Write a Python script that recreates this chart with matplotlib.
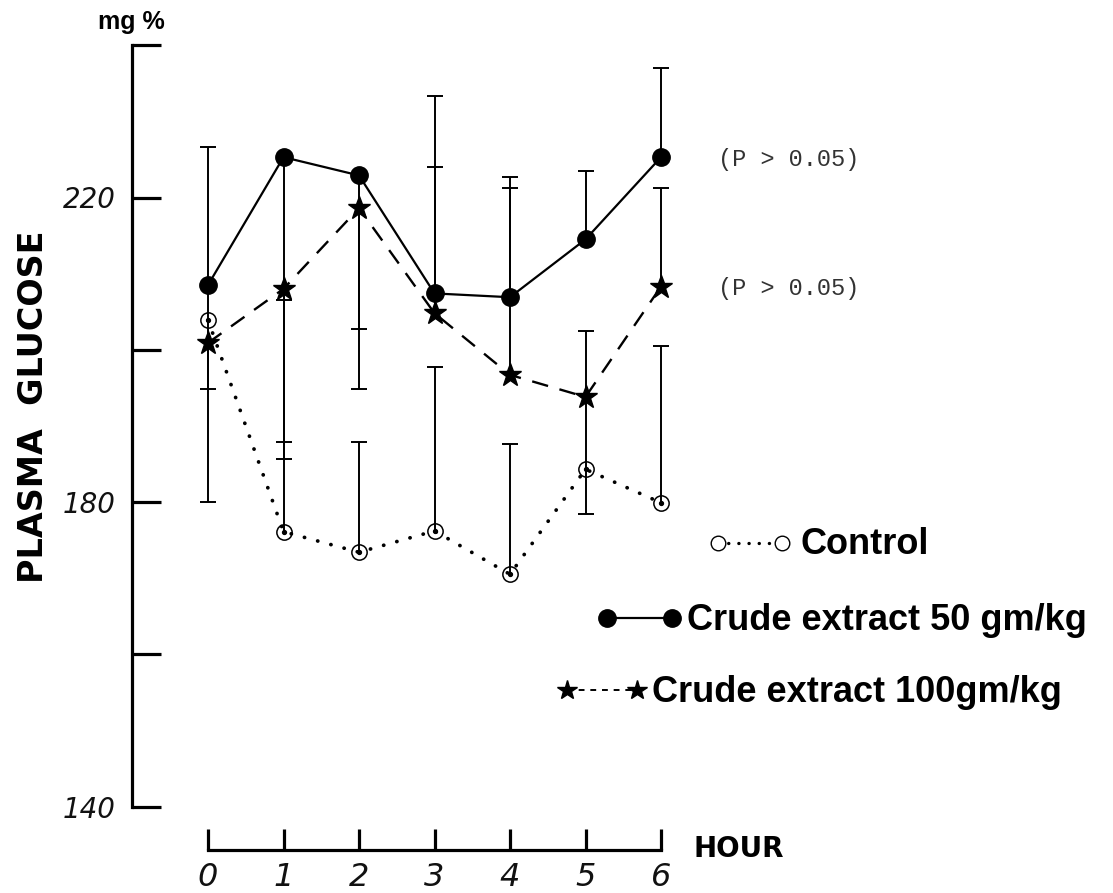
import numpy as np
import matplotlib
matplotlib.use("Agg")
import matplotlib.pyplot as plt
from matplotlib.lines import Line2D

# ---------------- data ----------------
hours = [0, 1, 2, 3, 4, 5, 6]
hour_labels = ["0", "1", "2", "3", "4", "5", "6"]
control = [203.9, 176.1, 173.4, 176.2, 170.5, 184.3, 179.9]
crude50 = [208.5, 225.3, 222.9, 207.4, 206.9, 214.5, 225.3]
crude100 = [200.9, 208.0, 218.6, 204.8, 196.7, 193.8, 208.3]
# one-sided error bars (0 = not drawn)
control_err_hi = [0, 30.5, 14.5, 21.5, 17.1, 0, 20.6]
control_err_lo = [0, 0, 0, 0, 0, 0, 0]
crude50_err_hi = [18.1, 0, 0, 25.9, 15.8, 9.0, 11.7]
crude50_err_lo = [13.7, 37.4, 20.2, 0, 0, 0, 0]
crude100_err_hi = [0, 0, 0, 19.2, 24.6, 8.6, 13.0]
crude100_err_lo = [20.9, 22.3, 23.8, 0, 0, 15.4, 0]
yticks = [140, 160, 180, 200, 220, 240]
ytick_labels = ["140", "", "180", "", "220", ""]
legend_labels = ["Control", "Crude extract 50 gm/kg", "Crude extract 100gm/kg"]
p_labels = ["(P > 0.05)", "(P > 0.05)"]
p_values_at = [crude50[-1], crude100[-1]]

W, H = 1113, 893
fig = plt.figure(figsize=(W / 100, H / 100), dpi=100)
fig.patch.set_facecolor("white")

def fx(px):
    return px / W

def fy(py):
    return 1 - py / H

# layout: x=0 at 208 px, 75.5 px per hour ; y 140 at 806.5 px, 240 at 45.25 px
X0, XS = 208.0, 75.5
ax_left = X0 - 0.35 * XS
ax_w = 6.7 * XS
ax = fig.add_axes([fx(ax_left), fy(806.5), ax_w / W, 761.25 / H])
ax.set_xlim(-0.35, 6.35)
ax.set_ylim(140, 240)
ax.patch.set_alpha(0)

for s in ["top", "right"]:
    ax.spines[s].set_visible(False)
ax.spines["left"].set_position(("axes", (132 - ax_left) / ax_w))
ax.spines["bottom"].set_position(("axes", -(850 - 806.5) / 761.25))
ax.spines["left"].set_bounds(140, 240)
ax.spines["bottom"].set_bounds(0, 6)
for s in ["left", "bottom"]:
    ax.spines[s].set_linewidth(2.3)
    ax.spines[s].set_capstyle("projecting")

ax.set_yticks(yticks)
ax.set_yticklabels(ytick_labels, fontstyle="italic", fontsize=20,
                   family="DejaVu Sans", color="#111111")
ax.tick_params(axis="y", direction="in", length=21, width=2.3, pad=12)
ax.set_xticks(hours)
ax.set_xticklabels(hour_labels, fontstyle="italic", fontsize=23,
                   family="DejaVu Sans", color="#111111")
ax.tick_params(axis="x", direction="in", length=15, width=2.3, pad=9)

lw_err = 1.4
cap = 11.5

def draw_err(x, y, lo, hi):
    x = np.asarray(x, float)
    y = np.asarray(y, float)
    lo = np.asarray(lo, float)
    hi = np.asarray(hi, float)
    for e, sgn in ((hi, 1), (lo, -1)):
        m = e > 0
        ends = y[m] + sgn * e[m]
        ax.vlines(x[m], y[m], ends, color="black", lw=lw_err, zorder=2)
        ax.plot(x[m], ends, ls="none", marker="_", ms=cap, mew=lw_err,
                color="black", zorder=2)

draw_err(hours, crude50, crude50_err_lo, crude50_err_hi)
draw_err(hours, crude100, crude100_err_lo, crude100_err_hi)
draw_err(hours, control, control_err_lo, control_err_hi)

# series
ax.plot(hours, crude50, color="black", lw=1.6, ls="-", marker="o",
        ms=12.5, mfc="black", mec="black", zorder=4, clip_on=False)
ax.plot(hours, crude100, color="black", lw=1.7, ls=(0, (7, 5)), marker="*",
        ms=17, mfc="black", mec="black", zorder=4, clip_on=False)
ax.plot(hours, control, color="black", lw=2.7, ls=(0, (0.05, 3.6)),
        dash_capstyle="round", marker="o", ms=11, mfc="none",
        mec="black", mew=1.1, zorder=3, clip_on=False)
ax.plot(hours, control, ls="none", marker="o", ms=2.8, color="black", zorder=3)

# p-value notes
x6px = X0 + 6 * XS
for lab, val in zip(p_labels, p_values_at):
    ax.annotate(lab, xy=(hours[-1], val), xytext=(718 - x6px, -2),
                textcoords="offset pixels", va="center", ha="left",
                fontsize=17, family="Liberation Mono", color="#333333",
                annotation_clip=False)

# axis texts
fig.text(fx(131), fy(22), "mg %", fontsize=18, fontweight="bold",
         family="Liberation Sans", ha="center", va="center")
fig.text(fx(34), fy(407), "PLASMA  GLUCOSE", fontsize=24, fontweight="bold",
         family="DejaVu Sans", rotation=90, ha="center", va="center")
fig.text(fx(694), fy(849), "HOUR", fontsize=20, fontweight="bold",
         family="DejaVu Sans", ha="left", va="center")

# legend (custom layout)
def leg_line(x0, x1, y, **kw):
    fig.add_artist(Line2D([fx(x0), fx(x1)], [fy(y), fy(y)],
                          transform=fig.transFigure, **kw))

leg_line(718, 782, 543, color="black", lw=2.4, ls=(0, (0.05, 3.0)),
         dash_capstyle="round", marker="o", ms=10.5, mfc="white", mec="black", mew=1.0)
fig.text(fx(800), fy(545), legend_labels[0], fontsize=26, fontweight="bold",
         family="Liberation Sans", ha="left", va="center")
leg_line(607, 672, 618, color="black", lw=1.6, marker="o", ms=12.5,
         mfc="black", mec="black")
fig.text(fx(687), fy(620), legend_labels[1], fontsize=26, fontweight="bold",
         family="Liberation Sans", ha="left", va="center")
leg_line(567, 637, 690, color="black", lw=1.4, ls=(0, (3, 3)), marker="*", ms=15,
         mfc="black", mec="black")
fig.text(fx(652), fy(692), legend_labels[2], fontsize=26, fontweight="bold",
         family="Liberation Sans", ha="left", va="center")

fig.savefig("out.png", dpi=100, facecolor="white")
